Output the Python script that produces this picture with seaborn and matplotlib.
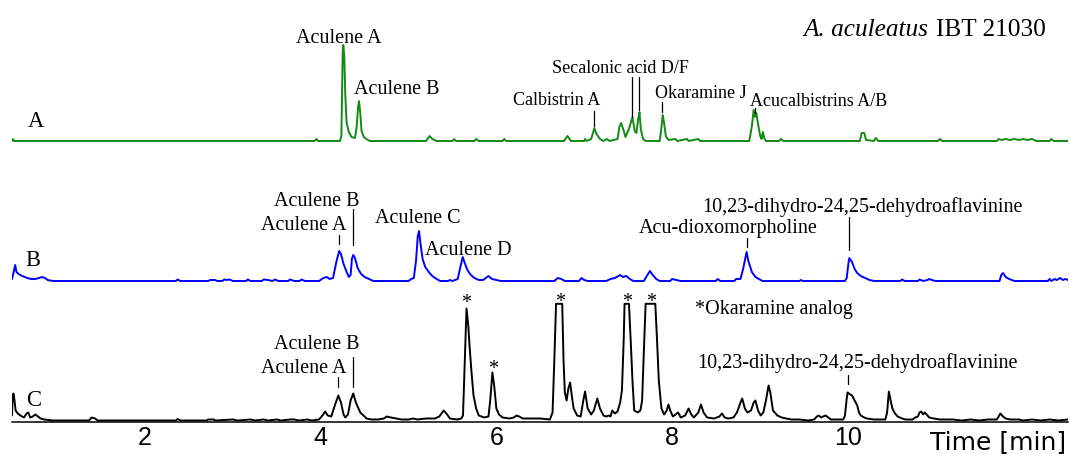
import numpy as np
import matplotlib
matplotlib.use("Agg")
import matplotlib.pyplot as plt
import seaborn as sns

# ---------------- data (time in min, signal height above trace baseline) -------------
time_A = [0.484, 0.49, 0.51, 3.93, 3.95, 3.97, 4.22, 4.235, 4.25, 4.257, 4.268, 4.28, 4.295, 4.32, 4.35,
          4.39, 4.41, 4.425, 4.436, 4.45, 4.465, 4.49, 4.52, 4.56, 5.20, 5.24, 5.27, 5.32, 5.50, 5.52,
          5.54, 5.75, 5.77, 5.80, 6.07, 6.09, 6.11, 6.77, 6.81, 6.85, 7.00, 7.01, 7.03, 7.08, 7.116,
          7.14, 7.18, 7.22, 7.26, 7.29, 7.38, 7.40, 7.42, 7.445, 7.47, 7.51, 7.55, 7.575, 7.595, 7.615,
          7.63, 7.645, 7.67, 7.70, 7.86, 7.875, 7.895, 7.91, 7.93, 7.96, 8.04, 8.06, 8.17, 8.19, 8.30,
          8.32, 8.88, 8.91, 8.93, 8.945, 8.96, 8.975, 8.99, 9.005, 9.02, 9.035, 9.05, 9.07, 9.22, 9.24,
          9.27, 10.14, 10.16, 10.19, 10.21, 10.30, 10.32, 10.35, 11.03, 11.05, 11.08, 11.70, 11.72, 11.75,
          11.80, 11.85, 11.90, 11.95, 12.00, 12.05, 12.10, 12.15, 12.30, 12.32, 12.35, 12.51]
sig_A = [0, 2, 0, 0, 2, 0, 0, 5, 88, 96, 85, 45, 18, 9, 4,
         3, 15, 34, 40, 28, 10, 4, 2, 0, 0, 5, 2, 0, 0, 2,
         0, 0, 2, 0, 0, 2, 0, 0, 5, 0, 0, 2, 0, 2, 13,
         7, 2, 0, 2, 0, 2, 14, 18, 12, 4, 12, 24, 10, 8, 22,
         29, 12, 2, 0, 0, 10, 26, 18, 5, 1, 2, 0, 2, 0, 2,
         0, 0, 15, 31, 24, 28, 20, 12, 5, 2, 9, 3, 0, 0, 2,
         0, 0, 8, 8, 1, 0, 3, 0, 0, 2, 0, 0, 2, 1,
         2, 1, 2, 1, 2, 1, 2, 0, 0, 2, 0, 0]

time_B = [0.484, 0.50, 0.52, 0.535, 0.56, 0.60, 0.63, 0.66, 0.70, 0.75, 0.79, 0.825, 0.86, 0.89, 0.95,
          2.35, 2.37, 2.40, 2.72, 2.74, 2.80, 2.82, 2.88, 2.90, 2.93, 2.96, 3.00, 3.15, 3.17, 3.20,
          3.33, 3.35, 3.40, 3.45, 3.48, 3.52, 3.63, 3.65, 3.70, 3.76, 3.78, 3.82, 3.98, 4.03, 4.07,
          4.10, 4.14, 4.18, 4.21, 4.23, 4.26, 4.29, 4.32, 4.34, 4.355, 4.37, 4.39, 4.42, 4.46, 4.50,
          4.55, 4.60, 5.00, 5.03, 5.06, 5.085, 5.105, 5.12, 5.135, 5.16, 5.19, 5.23, 5.27, 5.32, 5.36,
          5.45, 5.47, 5.50, 5.56, 5.59, 5.617, 5.64, 5.67, 5.71, 5.75, 5.80, 5.85, 5.91, 5.95, 6.00,
          6.05, 6.66, 6.70, 6.74, 6.78, 6.94, 6.97, 7.00, 7.04, 7.25, 7.30, 7.35, 7.41, 7.44, 7.48,
          7.52, 7.56, 7.68, 7.72, 7.75, 7.78, 7.82, 7.86, 7.98, 8.00, 8.05, 8.10, 8.50, 8.52, 8.55,
          8.71, 8.73, 8.78, 8.81, 8.85, 8.87, 8.91, 8.95, 8.99, 9.03, 9.45, 9.47, 9.49, 9.97, 9.99,
          10.01, 10.02, 10.05, 10.08, 10.11, 10.15, 10.20, 10.25, 10.30, 10.60, 10.62, 10.65, 10.80, 10.82, 10.86,
          10.91, 10.93, 10.96, 11.00, 11.73, 11.75, 11.77, 11.80, 11.84, 11.90, 12.28, 12.30, 12.32, 12.36, 12.38,
          12.42, 12.45, 12.48, 12.51]
sig_B = [2, 8, 16, 9, 7, 5, 4, 3, 2, 2, 3, 4, 3, 1, 0,
         0, 1.5, 0, 0, 1, 1, 0, 0, 1.5, 1, 1.5, 0, 0, 1.5, 0,
         0, 1.5, 1, 0, 1.5, 0, 0, 1.5, 0, 0, 1.5, 0, 0, 3, 4,
         2, 3, 20, 30, 27, 17, 10, 4, 6, 22, 26, 23, 13, 7, 4,
         2, 0, 0, 2, 3, 20, 45, 50, 38, 22, 14, 9, 5, 2, 0,
         0, 1, 0, 2, 14, 24, 18, 11, 6, 3, 1, 1, 5, 2, 1,
         0, 0, 3, 2, 0, 0, 3, 1, 0, 0, 2, 3, 6, 4, 5,
         2, 0, 0, 6, 10, 6, 2, 0, 0, 2, 1, 0, 0, 2, 0,
         0, 2, 2, 12, 29, 20, 9, 4, 2, 0, 0, 1, 0, 0, 3,
         18, 23, 19, 12, 8, 5, 3, 1, 0, 0, 1.5, 0, 0, 1.5, 0,
         1, 2, 1, 0, 0, 6, 8, 4, 2, 0, 0, 2, 0, 2, 1,
         3, 1, 2, 1]

time_C = [0.484, 0.49, 0.50, 0.51, 0.525, 0.55, 0.58, 0.62, 0.65, 0.67, 0.69, 0.72, 0.75, 0.78, 0.81,
          0.85, 0.95, 1.36, 1.39, 1.43, 1.46, 2.35, 2.37, 2.40, 2.70, 2.72, 2.78, 2.80, 3.00, 3.05,
          3.20, 3.25, 3.35, 3.40, 3.50, 3.55, 3.65, 3.70, 3.75, 3.85, 3.90, 3.98, 4.02, 4.05, 4.08,
          4.12, 4.16, 4.20, 4.23, 4.26, 4.28, 4.31, 4.34, 4.37, 4.40, 4.45, 4.50, 4.52, 4.58, 4.65,
          4.72, 4.75, 4.80, 4.86, 4.92, 5.00, 5.05, 5.10, 5.20, 5.30, 5.35, 5.40, 5.44, 5.47, 5.55,
          5.60, 5.62, 5.64, 5.66, 5.68, 5.70, 5.72, 5.74, 5.77, 5.80, 5.86, 5.91, 5.93, 5.955, 5.975,
          6.00, 6.03, 6.07, 6.15, 6.20, 6.23, 6.26, 6.30, 6.40, 6.50, 6.61, 6.64, 6.66, 6.68, 6.75,
          6.765, 6.78, 6.80, 6.82, 6.84, 6.86, 6.88, 6.92, 6.96, 6.99, 7.01, 7.04, 7.08, 7.11, 7.15,
          7.18, 7.22, 7.25, 7.28, 7.30, 7.32, 7.35, 7.38, 7.41, 7.43, 7.45, 7.46, 7.51, 7.53, 7.55,
          7.57, 7.61, 7.64, 7.66, 7.68, 7.70, 7.81, 7.83, 7.85, 7.88, 7.91, 7.94, 7.96, 7.98, 8.01,
          8.04, 8.07, 8.10, 8.15, 8.19, 8.22, 8.25, 8.30, 8.33, 8.36, 8.40, 8.48, 8.54, 8.57, 8.60,
          8.64, 8.70, 8.74, 8.78, 8.80, 8.83, 8.86, 8.90, 8.93, 8.95, 8.98, 9.01, 9.04, 9.07, 9.10,
          9.12, 9.15, 9.20, 9.25, 9.30, 9.36, 9.45, 9.55, 9.62, 9.65, 9.67, 9.70, 9.72, 9.75, 9.78,
          9.81, 9.90, 9.95, 9.97, 9.99, 10.00, 10.03, 10.05, 10.08, 10.11, 10.13, 10.15, 10.19, 10.22, 10.30,
          10.43, 10.45, 10.47, 10.49, 10.51, 10.54, 10.57, 10.62, 10.66, 10.74, 10.77, 10.80, 10.82, 10.84, 10.86,
          10.88, 10.90, 10.93, 10.98, 11.05, 11.20, 11.30, 11.40, 11.50, 11.60, 11.70, 11.72, 11.74, 11.77, 11.80,
          11.85, 11.95, 12.00, 12.10, 12.20, 12.30, 12.40, 12.51]
sig_C = [5, 20, 27, 22, 10, 7, 5, 3, 7, 8, 3, 4, 6, 4, 2,
         1, 0, 0, 3, 2, 0, 0, 1.5, 0, 0, 1, 1, 0, 1, 0,
         1, 0, 1, 0, 1, 0, 1, 1, 0, 1, 0, 1, 5, 9, 5,
         4, 15, 25, 18, 6, 3, 6, 20, 27, 18, 8, 4, 2, 1, 1,
         2, 4, 3, 2, 1, 1, 2, 1, 2, 2, 4, 10, 6, 2, 1,
         2, 5, 60, 112, 95, 68, 45, 25, 12, 5, 3, 4, 20, 48, 35,
         12, 6, 3, 2, 3, 5, 4, 2, 2, 2, 1, 8, 60, 116.7, 116.7,
         60, 28, 20, 32, 38, 24, 12, 5, 4, 20, 29, 12, 6, 10, 22,
         12, 5, 4, 5, 4, 10, 7, 9, 18, 30, 80, 116.7, 116.7, 80, 40,
         10, 8, 10, 20, 70, 116.7, 116.7, 80, 40, 12, 6, 10, 16, 10, 4,
         6, 8, 3, 5, 12, 6, 3, 8, 16, 8, 3, 2, 4, 7, 3,
         2, 3, 8, 18, 22, 12, 8, 10, 18, 20, 10, 5, 8, 20, 35,
         28, 10, 5, 3, 2, 1, 1, 0, 1, 4, 5, 3, 4, 5, 3,
         1, 1, 1, 5, 22, 28, 26, 25, 20, 15, 8, 5, 3, 2, 1,
         1, 8, 29, 20, 12, 7, 4, 2, 1, 1, 3, 4, 8, 9, 6,
         8, 6, 3, 2, 1, 1, 0, 1, 0, 1, 1, 4, 7, 4, 2,
         1, 1, 0, 1, 0, 1, 0, 1]

traces = ["A", "B", "C"]
colors = ["#138a13", "#0000ff", "#000000"]

tick_positions = list(range(1, 13))
tick_labels = ["", "2", "", "4", "", "6", "", "8", "", "10", "", ""]

# ---------------- layout ----------------
sns.set_style("white")
plt.rcParams["font.family"] = ["Liberation Serif", "DejaVu Serif"]
plt.rcParams["text.color"] = "black"
plt.rcParams["xtick.color"] = "black"
plt.rcParams["xtick.labelcolor"] = "black"

fig = plt.figure(figsize=(10.70, 4.55), dpi=100)
ax = fig.add_axes([12 / 1070, 33 / 455, 1056 / 1070, 422 / 455])

offsets = {"A": 281.0, "B": 141.0, "C": 1.5}
series = {"A": (time_A, sig_A), "B": (time_B, sig_B), "C": (time_C, sig_C)}
for name, col in zip(traces, colors):
    t, s = series[name]
    sns.lineplot(x=np.asarray(t), y=np.asarray(s, dtype=float) + offsets[name], ax=ax,
                 color=col, linewidth=1.4, estimator=None, sort=False)

ax.set_xlim(0.484, 12.51)
ax.set_ylim(0, 422)
for sp in ["top", "left", "right"]:
    ax.spines[sp].set_visible(False)
ax.spines["bottom"].set_color("black")
ax.spines["bottom"].set_linewidth(1.1)
ax.set_yticks([])
ax.set_xticks(tick_positions)
ax.set_xticklabels(tick_labels, fontfamily="Liberation Sans", fontsize=18, color="black")
ax.tick_params(axis="x", direction="out", length=5.8, width=1.1, pad=-2.9,
               color="black", labelcolor="black")
ax.set_xlabel("")
ax.set_ylabel("")

ax.text(12.49, -32.5, "Time [min]", ha="right", va="bottom", fontfamily="DejaVu Sans",
        fontsize=18, color="black", clip_on=False)

def lab(x, y, s, ha="left", fs=14.5, **kw):
    ax.text(x, y, s, ha=ha, va="baseline", fontsize=fs, color="black", **kw)

def vline(x, y0, y1):
    ax.plot([x, x], [y0, y1], color="black", lw=0.9)

# title
lab(9.502, 386, "A. aculeatus", fs=18.2, style="italic")
lab(11.01, 386, "IBT 21030", fs=18.2)

# trace A
lab(0.755, 295, "A", ha="center", fs=16.3)
lab(4.208, 379, "Aculene A", ha="center")
lab(4.379, 328, "Aculene B")
lab(6.190, 317, "Calbistrin A", fs=13)
lab(6.639, 349, "Secalonic acid D/F", fs=13)
lab(7.807, 324, "Okaramine J", fs=13)
lab(8.894, 316, "Acucalbistrins A/B", fs=13)
vline(7.11, 311, 296)
vline(7.55, 345, 305)
vline(7.625, 345, 312)
vline(7.89, 320, 310)
vline(8.95, 314, 309)

# trace B
lab(0.723, 156, "B", ha="center", fs=16.3)
lab(3.466, 216, "Aculene B")
lab(3.317, 192, "Aculene A")
vline(4.21, 187, 178)
vline(4.37, 213, 177)
lab(4.615, 199, "Aculene C")
lab(5.191, 167, "Aculene D")
lab(7.62, 189, "Acu-dioxomorpholine")
vline(8.85, 184, 175)
lab(8.343, 210, "10,23-dihydro-24,25-dehydroaflavinine")
vline(10.02, 205, 172)

# trace C
lab(0.734, 16, "C", ha="center", fs=16.3)
lab(3.466, 73, "Aculene B")
lab(3.317, 49, "Aculene A")
vline(4.20, 45.3, 34.7)
vline(4.37, 64.7, 34.7)
for (xs, ys) in [(5.65, 114), (5.96, 48), (6.72, 115), (7.49, 115), (7.76, 115)]:
    lab(xs, ys, "*", ha="center")
lab(8.258, 108, "*Okaramine analog")
lab(8.286, 54, "10,23-dihydro-24,25-dehydroaflavinine")
vline(10.01, 47, 38)

fig.savefig("out.png", dpi=100)
